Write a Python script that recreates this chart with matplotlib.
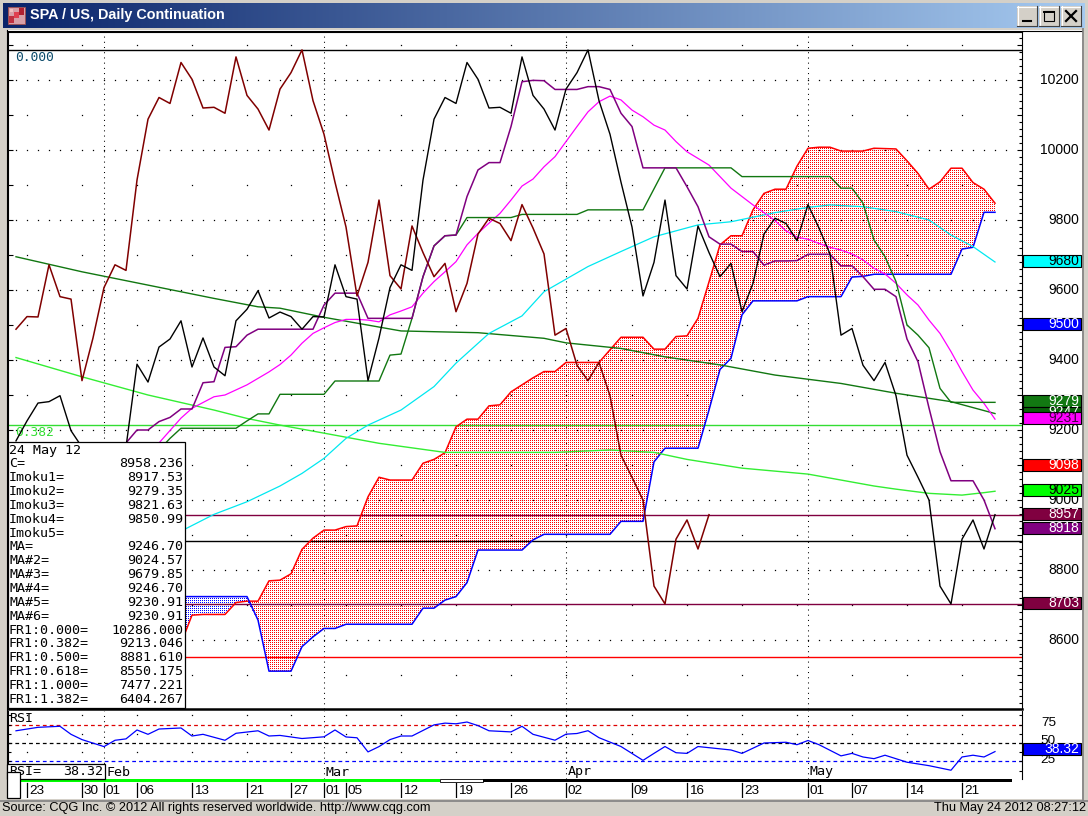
import numpy as np
import matplotlib
matplotlib.use("Agg")
import matplotlib.pyplot as plt
from matplotlib.patches import Rectangle
from matplotlib.lines import Line2D
from matplotlib.path import Path
from matplotlib.colors import to_rgb
from matplotlib.transforms import blended_transform_factory, offset_copy
from matplotlib.ticker import MultipleLocator

W, H = 1088, 816

# ---------------- data (bar index 0 = Mon Jan 23 2012, 88 = Thu May 24 2012) ----------------
close_start = -1
close = [9169, 9226, 9277, 9281, 9298, 9198, 9151, 9080, 9040, 9100,
         9151, 9388, 9337, 9437, 9460, 9512, 9380, 9463, 9380, 9355,
         9512, 9545, 9598, 9520, 9537, 9524, 9488, 9524, 9523, 9672,
         9581, 9574, 9341, 9463, 9607, 9672, 9656, 9914, 10088, 10150,
         10133, 10250, 10202, 10120, 10122, 10105, 10266, 10156, 10117, 10057,
         10174, 10221, 10286, 10141, 10045, 9908, 9780, 9583, 9679, 9857,
         9641, 9603, 9783, 9707, 9638, 9676, 9538, 9619, 9760, 9805,
         9790, 9741, 9844, 9777, 9703, 9471, 9490, 9385, 9341, 9393,
         9298, 9128, 9065, 9000, 8754, 8703, 8888, 8943, 8860, 8958]
chikou_lag = 26

tenkan_start = 8
tenkan = [9114, 9163, 9200, 9200, 9224, 9236, 9260, 9260, 9335, 9338,
          9436, 9438, 9471, 9488, 9488, 9488, 9488, 9488, 9488, 9557,
          9591, 9591, 9591, 9519, 9519, 9519, 9519, 9519, 9638, 9726,
          9755, 9757, 9867, 9943, 9964, 9964, 10067, 10195, 10199, 10198,
          10173, 10173, 10173, 10181, 10181, 10173, 10105, 10067, 9949, 9949,
          9949, 9949, 9895, 9838, 9752, 9731, 9731, 9710, 9710, 9671,
          9683, 9683, 9684, 9702, 9702, 9702, 9669, 9669, 9638, 9602,
          9602, 9581, 9460, 9395, 9263, 9138, 9055, 9055, 9055, 9000, 8918]

kijun_start = 12
kijun = [9143, 9176, 9205, 9205, 9205, 9205, 9205, 9205, 9226, 9246,
         9246, 9302, 9302, 9302, 9302, 9302, 9340, 9340, 9340, 9340,
         9340, 9414, 9417, 9519, 9638, 9726, 9755, 9757, 9807, 9807,
         9807, 9807, 9807, 9816, 9816, 9816, 9816, 9816, 9816, 9829,
         9829, 9829, 9829, 9829, 9829, 9889, 9949, 9949, 9949, 9949,
         9949, 9949, 9949, 9924, 9924, 9924, 9924, 9924, 9924, 9924,
         9924, 9924, 9891, 9891, 9848, 9743, 9695, 9624, 9500, 9471,
         9435, 9319, 9279, 9279, 9279, 9279, 9279]

cloud_start = 14
span_red = [8590, 8671, 8673, 8673, 8673, 8707, 8711, 8711, 8769, 8771,
            8789, 8859, 8891, 8914, 8914, 8924, 8926, 9009, 9065, 9057,
            9057, 9057, 9105, 9116, 9135, 9209, 9231, 9231, 9269, 9272,
            9309, 9329, 9349, 9367, 9367, 9393, 9393, 9393, 9393, 9429,
            9465, 9465, 9465, 9431, 9431, 9467, 9469, 9519, 9623, 9729,
            9755, 9755, 9829, 9876, 9888, 9888, 9954, 10005, 10008, 10008,
            9997, 9997, 9997, 10005, 10004, 10003, 9969, 9933, 9888, 9909,
            9948, 9948, 9907, 9888, 9848]
span_blue = [8724, 8724, 8724, 8724, 8724, 8724, 8724, 8657, 8511, 8511,
             8511, 8581, 8609, 8633, 8633, 8645, 8645, 8645, 8645, 8645,
             8645, 8645, 8691, 8691, 8714, 8724, 8764, 8857, 8857, 8857,
             8857, 8857, 8886, 8902, 8902, 8902, 8902, 8902, 8902, 8902,
             8939, 8939, 8939, 9109, 9148, 9148, 9148, 9148, 9257, 9373,
             9405, 9529, 9569, 9569, 9569, 9569, 9569, 9581, 9581, 9581,
             9581, 9637, 9639, 9645, 9645, 9645, 9645, 9645, 9645, 9645,
             9645, 9717, 9722, 9822, 9822]

ma_x = [-1, 5, 11, 17, 21, 23, 27, 34, 41, 47, 49, 54, 58, 63, 68, 74, 79, 84, 88]
ma = [9695, 9652, 9614, 9576, 9552, 9548, 9522, 9483, 9478, 9462, 9449, 9433, 9409,
      9386, 9357, 9333, 9305, 9281, 9247]

ma2_x = [-1, 5, 11, 17, 20, 23, 27, 32, 38, 43, 48, 53, 57, 60, 65, 71, 77, 79, 82, 85, 87, 88]
ma2 = [9407, 9352, 9300, 9257, 9233, 9214, 9191, 9162, 9136, 9136, 9136, 9143, 9136,
       9116, 9091, 9074, 9040, 9031, 9019, 9014, 9021, 9025]

ma3_x = [14, 17, 20, 23, 25, 27, 29, 31, 34, 37, 39, 42, 45, 47, 51, 54, 57, 61, 64,
         68, 71, 73, 76, 79, 82, 84, 86, 88]
ma3 = [8911, 8959, 8995, 9040, 9076, 9119, 9176, 9214, 9257, 9324, 9391, 9476, 9526,
       9595, 9667, 9710, 9752, 9786, 9795, 9821, 9836, 9843, 9838, 9824, 9800, 9757,
       9724, 9680]

ma5_x = [11, 12, 14, 15, 17, 18, 20, 22, 23, 24, 25, 26, 27, 28, 29, 30, 31, 32, 33,
         34, 35, 36, 37, 38, 39, 40, 41, 42, 43, 44, 45, 46, 47, 48, 49, 50, 51, 52,
         53, 54, 55, 56, 57, 58, 59, 60, 61, 62, 63, 64, 65, 66, 67, 68, 69, 70, 71,
         72, 73, 74, 75, 76, 77, 78, 79, 80, 81, 82, 83, 84, 85, 86, 87, 88]
ma5 = [9137, 9163, 9234, 9262, 9295, 9300, 9329, 9366, 9387, 9414, 9448, 9476, 9492,
       9507, 9516, 9516, 9514, 9509, 9529, 9540, 9552, 9591, 9624, 9652, 9681, 9729,
       9762, 9791, 9819, 9857, 9897, 9917, 9952, 9981, 10024, 10067, 10109, 10138,
       10154, 10143, 10114, 10095, 10071, 10057, 10024, 9995, 9976, 9957, 9924, 9891,
       9867, 9843, 9821, 9798, 9769, 9751, 9745, 9733, 9722, 9714, 9703, 9686, 9662,
       9646, 9619, 9586, 9557, 9514, 9476, 9424, 9367, 9314, 9276, 9231]

rsi_x = [-1, 1, 3, 4, 5, 7, 8, 9, 10, 11, 12, 14, 15, 16, 18, 19, 21, 22, 23, 25,
         27, 28, 29, 30, 31, 32, 33, 34, 35, 37, 38, 39, 40, 41, 42, 44, 45, 46, 48,
         49, 50, 51, 52, 54, 56, 57, 58, 59, 60, 61, 64, 65, 67, 69, 70, 71, 72, 74,
         75, 76, 77, 78, 80, 82, 84, 85, 86, 87, 88]
rsi = [66.6, 71.3, 72.7, 61.8, 54.6, 45.1, 53.7, 55.6, 67.7, 61.8, 69.0, 70.4, 59.5,
       61.8, 53.7, 63.2, 66.6, 59.5, 60.3, 56.1, 58.4, 67.7, 58.2, 57.1, 37.9, 45.1,
       54.6, 59.5, 59.5, 74.6, 77.0, 76.1, 78.5, 73.6, 66.6, 65.1, 72.7, 61.8, 53.8,
       62.0, 62.9, 66.7, 57.2, 45.2, 26.4, 35.9, 45.2, 36.8, 35.9, 45.2, 40.5, 35.9,
       50.0, 51.0, 47.7, 53.4, 47.7, 32.5, 35.9, 31.0, 28.7, 33.4, 23.9, 19.2, 13.0,
       31.0, 33.4, 31.0, 38.32]
rsi_last = "38.32"

fib_levels = [10286.000, 9213.046, 8881.610, 8550.175]
fib_names = ["0.000", "0.382", None, None]
fib_colors = ["black", "#33dd33", "black", "#ff0000"]
last_line = 8957
low_line = 8703

date_ticks = [(0, "23"), (5, "30"), (7, "01"), (10, "06"), (15, "13"), (20, "21"),
              (24, "27"), (27, "01"), (29, "05"), (34, "12"), (39, "19"), (44, "26"),
              (49, "02"), (55, "09"), (60, "16"), (65, "23"), (71, "01"), (75, "07"),
              (80, "14"), (85, "21")]
months = [(7, "Feb"), (27, "Mar"), (49, "Apr"), (71, "May")]
mondays = [0, 5, 10, 15, 20, 24, 29, 34, 39, 44, 49, 55, 60, 65, 70, 75, 80, 85]

readout = [("24 May 12", ""), ("C=", "8958.236"), ("Imoku1=", "8917.53"),
           ("Imoku2=", "9279.35"), ("Imoku3=", "9821.63"), ("Imoku4=", "9850.99"),
           ("Imoku5=", ""), ("MA=", "9246.70"), ("MA#2=", "9024.57"),
           ("MA#3=", "9679.85"), ("MA#4=", "9246.70"), ("MA#5=", "9230.91"),
           ("MA#6=", "9230.91"), ("FR1:0.000=", "10286.000"), ("FR1:0.382=", "9213.046"),
           ("FR1:0.500=", "8881.610"), ("FR1:0.618=", "8550.175"),
           ("FR1:1.000=", "7477.221"), ("FR1:1.382=", "6404.267")]

tags = [(9680, "#00ffff", "black"), (9500, "#0000ff", "white"), (9279, "#127812", "white"),
        (9247, "#0a600a", "white"), (9231, "#ff00ff", "#400040"), (9098, "#ff0000", "white"),
        (9025, "#00ff00", "black"), (8957, "#800040", "white"), (8918, "#800080", "white"),
        (8703, "#800040", "white")]

MONO = "DejaVu Sans Mono"
SANS = "Liberation Sans"

# ---------------- figure helpers (pixel coords, origin top-left) ----------------
fig = plt.figure(figsize=(W / 100, H / 100), dpi=100, facecolor="#d4d0c8")


def fx(x):
    return x / W


def fy(y):
    return 1 - y / H


def frect(x0, y0, x1, y1, **kw):
    r = Rectangle((fx(x0), fy(y1)), (x1 - x0) / W, (y1 - y0) / H,
                  transform=fig.transFigure, **kw)
    fig.add_artist(r)
    return r


def fline(xs, ys, **kw):
    fig.add_artist(Line2D([fx(x) for x in xs], [fy(y) for y in ys],
                          transform=fig.transFigure, **kw))


def ftext(x, y, s, **kw):
    return fig.text(fx(x), fy(y), s, **kw)


# white chart window
frect(7, 30, 1082, 799, facecolor="white", edgecolor="none", zorder=-2)
fline([7, 1082], [30.5, 30.5], color="black", lw=0.8, zorder=-1)
fline([7, 7], [30, 772], color="black", lw=0.8, zorder=-1)
fline([0, 1088], [800.5, 800.5], color="#808080", lw=1.2, zorder=-1)
fline([1082.5, 1082.5], [28, 800], color="#808080", lw=1.2, zorder=-1)

# title bar
tb = fig.add_axes([fx(3), fy(28), (1085 - 3) / W, 25 / H])
grad = np.linspace(0, 1, 512)
c0, c1 = np.array(to_rgb("#0a246a")), np.array(to_rgb("#a6caf0"))
tb.imshow((c0[None, :] * (1 - grad[:, None]) + c1[None, :] * grad[:, None])[None, :, :],
          aspect="auto", extent=(0, 1, 0, 1))
tb.set_axis_off()
frect(8, 7, 25, 24, facecolor="#d8a0a8", edgecolor="#a05050", lw=0.6, zorder=3)
for (a, b, c, d, col) in [(9, 16, 14, 23, "#c03040"), (14, 12, 19, 18, "#e04050"),
                          (19, 8, 24, 15, "#b02030"), (10, 9, 13, 12, "#f0c0c0")]:
    frect(a, b, c, d, facecolor=col, edgecolor="none", zorder=3)
ftext(30, 15.5, "SPA / US, Daily Continuation", color="white", fontsize=10.4,
      fontweight="bold", family=SANS, va="center", ha="left")
for bx in (1017, 1039, 1061):
    frect(bx, 6, bx + 20, 26, facecolor="#d4d0c8", edgecolor="none", zorder=3)
    fline([bx, bx + 20], [6.5, 6.5], color="white", lw=0.8, zorder=4)
    fline([bx + 0.5, bx + 0.5], [6, 26], color="white", lw=0.8, zorder=4)
    fline([bx, bx + 20], [25.5, 25.5], color="#404040", lw=0.8, zorder=4)
    fline([bx + 19.5, bx + 19.5], [6, 26], color="#404040", lw=0.8, zorder=4)
fline([1023, 1031], [21, 21], color="black", lw=1.5, zorder=5)
frect(1044, 11, 1054, 21, facecolor="none", edgecolor="black", lw=0.8, zorder=5)
fline([1044, 1054], [11.8, 11.8], color="black", lw=1.4, zorder=5)
fline([1066, 1076], [11, 21], color="black", lw=1.6, zorder=5)
fline([1066, 1076], [21, 11], color="black", lw=1.6, zorder=5)

# ---------------- main price panel ----------------
PX_BAR, X0_PX = 11.0, 27.0          # bar pitch and pixel of bar 0
PX_PT, Y_REF_PX, Y_REF = 0.35, 80.0, 10200.0
L, R, T, B = 8, 1022, 32, 709
ax = fig.add_axes([fx(L), fy(B), (R - L) / W, (B - T) / H])
xlim = ((L - X0_PX) / PX_BAR, (R - X0_PX) / PX_BAR)
ylim = (Y_REF - (B - Y_REF_PX) / PX_PT, Y_REF + (Y_REF_PX - T) / PX_PT)
ax.set_facecolor("white")

# dotted grid
bars_all = np.arange(-1, 90)
for lv in range(8600, 10201, 200):
    ax.plot(bars_all, np.full(bars_all.size, lv), ls="none", marker="s", ms=0.9,
            mew=0, color="black", zorder=0.5)
for lv in range(8500, 10301, 200):
    ax.plot(mondays, np.full(len(mondays), lv), ls="none", marker="s", ms=0.9,
            mew=0, color="black", zorder=0.5)
for i, _ in months:
    ax.axvline(i, color="black", lw=0.75, ls=(0, (1, 4)), zorder=0.5)

# fibonacci + reference lines
bt = blended_transform_factory(ax.transAxes, ax.transData)
for lv, nm, col in zip(fib_levels, fib_names, fib_colors):
    ax.axhline(lv, color=col, lw=1.0, zorder=2)
    if nm:
        ax.text((15 - L) / (R - L), lv - 2, nm, transform=bt,
                color="#0a4a6a" if nm == "0.000" else col, fontsize=9.3, family=MONO,
                va="top", ha="left", zorder=2)
ax.axhline(last_line, color="#800040", lw=1.0, zorder=2)
ax.axhline(low_line, color="#800040", lw=1.0, zorder=2)

# ichimoku cloud with 1-px dot fill
cx = np.arange(cloud_start, cloud_start + len(span_red))
red_a, blue_a = np.array(span_red, float), np.array(span_blue, float)
pw, ph = R - L, B - T


def dot_fill(top, base, color):
    verts = np.column_stack([np.r_[cx, cx[::-1]], np.r_[top, base[::-1]]])
    img = np.zeros((ph, pw, 4))
    img[::2, ::2, :3] = to_rgb(color)
    img[::2, ::2, 3] = 1.0
    im = ax.imshow(img, extent=(xlim[0], xlim[1], ylim[0], ylim[1]), origin="upper",
                   interpolation="nearest", aspect="auto", zorder=1)
    im.set_clip_path(Path(verts), ax.transData)


dot_fill(red_a, np.minimum(red_a, blue_a), "#ff0000")
dot_fill(blue_a, np.minimum(red_a, blue_a), "#0000ff")
ax.plot(cx, span_red, color="#ff0000", lw=1.1, zorder=2.2)
ax.plot(cx, span_blue, color="#0000ff", lw=1.1, zorder=2.2)

# moving averages
ax.plot(ma_x, ma, color="#117711", lw=1.0, zorder=3)
ax.plot(ma2_x, ma2, color="#33ee33", lw=1.0, zorder=3)
ax.plot(ma3_x, ma3, color="#00e8f0", lw=0.9, zorder=3)
ax.plot(ma5_x, ma5, color="#ff00ff", lw=0.9, zorder=3)

# ichimoku lines
ax.plot(np.arange(kijun_start, kijun_start + len(kijun)), kijun, color="#117711", lw=1.0, zorder=3.2)
ax.plot(np.arange(tenkan_start, tenkan_start + len(tenkan)), tenkan, color="#800080", lw=1.1, zorder=3.3)
cidx = np.arange(close_start, close_start + len(close))
keep = cidx - chikou_lag >= close_start
ax.plot(cidx[keep] - chikou_lag, np.array(close)[keep], color="#800000", lw=1.1, zorder=3.4)
ax.plot(cidx, close, color="black", lw=1.0, zorder=3.5)

ax.set_xlim(*xlim)
ax.set_ylim(*ylim)
ax.set_xticks([])
ax.yaxis.set_major_locator(MultipleLocator(100))
ax.yaxis.set_minor_locator(MultipleLocator(20))
ax.tick_params(axis="y", which="major", direction="in", length=3.5, width=0.8,
               left=True, right=True, labelleft=False, labelright=False)
ax.tick_params(axis="y", which="minor", direction="in", length=2.2, width=0.8,
               left=False, right=True)
for s in ("left", "top", "right"):
    ax.spines[s].set_linewidth(0.8)
ax.spines["bottom"].set_linewidth(1.8)

# price labels and value tags on the right
lab_x = (1079 - L) / (R - L)
for v in range(8600, 10201, 200):
    ax.text(lab_x, v, str(v), transform=bt, ha="right", va="center", fontsize=10,
            family=SANS, color="black", clip_on=False, zorder=5)
tag_h = 12 / PX_PT
for k, (v, fc, tc) in enumerate(tags):
    ax.add_patch(Rectangle(((1022.5 - L) / (R - L), v - tag_h / 2 + 3), (1081 - 1022.5) / (R - L),
                           tag_h, transform=bt, facecolor=fc, edgecolor="black", lw=0.8,
                           clip_on=False, zorder=6 + 2 * k))
    ax.text(lab_x, v + 3, str(v), transform=bt, ha="right", va="center", fontsize=10,
            family=SANS, color=tc, clip_on=False, zorder=7 + 2 * k)

# readout box
frect(8, 442, 185, 708, facecolor="white", edgecolor="black", lw=0.9, zorder=4)
for k, (name, val) in enumerate(readout):
    yy = 450 + 13.85 * k
    ftext(9, yy, name, fontsize=9.6, family=MONO, va="center", ha="left", zorder=5)
    if val:
        ftext(183.5, yy, val, fontsize=9.6, family=MONO, va="center", ha="right", zorder=5)

# ---------------- RSI panel ----------------
RT, RB = 711, 779
RSI_PX, RSI_MID = 0.736, 743.0
axr = fig.add_axes([fx(L), fy(RB), (R - L) / W, (RB - RT) / H])
axr.set_xlim(*xlim)
axr.set_ylim(50 - (RB - RSI_MID) / RSI_PX, 50 + (RSI_MID - RT) / RSI_PX)
for lv in (87.5, 62.5, 37.5):
    axr.plot(mondays, np.full(len(mondays), lv), ls="none", marker="s", ms=0.9,
             mew=0, color="black", zorder=0.5)
for i, _ in months:
    axr.axvline(i, color="black", lw=0.75, ls=(0, (1, 4)), zorder=0.5)
for lv, col in ((75, "#dd0000"), (50, "black"), (25, "#0000ff")):
    axr.axhline(lv, color=col, lw=0.9, ls=(0, (3, 2.5)), zorder=1)
axr.plot(rsi_x, rsi, color="#0000ff", lw=0.9, zorder=2)
axr.set_xticks([])
axr.yaxis.set_major_locator(MultipleLocator(25))
axr.yaxis.set_minor_locator(MultipleLocator(12.5))
axr.tick_params(axis="y", which="both", direction="in", length=2.5, width=0.8,
                left=True, right=True, labelleft=False, labelright=False)
for s in ("top", "bottom"):
    axr.spines[s].set_visible(False)
axr.spines["left"].set_linewidth(0.8)
axr.spines["right"].set_linewidth(0.8)
mtr = offset_copy(axr.transData, fig=fig, x=2, y=0, units="dots")
for i, nm in months:
    axr.text(i, 50 - (772 - RSI_MID) / RSI_PX, nm, transform=mtr, fontsize=9.6, family=MONO,
             ha="left", va="center", zorder=3)
brt = blended_transform_factory(axr.transAxes, axr.transData)
for lv in (75, 50, 25):
    axr.text((1056 - L) / (R - L), lv + 2.5, str(lv), transform=brt, ha="right", va="center",
             fontsize=9.7, family=SANS, clip_on=False, zorder=3)
rsi_tag_y = float(rsi_last) + 3.7
axr.add_patch(Rectangle(((1022.5 - L) / (R - L), rsi_tag_y - 16.7 / 2),
                        (1081 - 1022.5) / (R - L), 16.7, transform=brt, facecolor="#0000ff",
                        edgecolor="black", lw=0.8, clip_on=False, zorder=4))
axr.text(lab_x, rsi_tag_y, rsi_last, transform=brt, ha="right", va="center",
         fontsize=10, family=SANS, color="white", clip_on=False, zorder=5)
ftext(9, 718, "RSI", fontsize=9.6, family=MONO, va="center", ha="left", zorder=5)
frect(7, 764, 104.5, 779, facecolor="white", edgecolor="black", lw=0.9, zorder=4)
ftext(9, 771.5, "RSI=", fontsize=9.6, family=MONO, va="center", ha="left", zorder=5)
ftext(103, 771.5, rsi_last, fontsize=9.6, family=MONO, va="center", ha="right", zorder=5)

# ---------------- date strip ----------------
frect(21, 779, 440, 782, facecolor="#00ff00", edgecolor="none", zorder=2)
frect(440, 779, 483, 782, facecolor="white", edgecolor="black", lw=0.6, zorder=2)
frect(483, 779, 1012, 782, facecolor="black", edgecolor="none", zorder=2)
axd = fig.add_axes([fx(L), fy(798), (R - L) / W, 16 / H])
axd.set_xlim(*xlim)
axd.set_ylim(0, 16)
axd.set_axis_off()
dtr = offset_copy(axd.transData, fig=fig, x=2, y=0, units="dots")
for i, lab in date_ticks:
    axd.plot([i, i], [1, 15], color="black", lw=0.9)
    axd.text(i, 7.5, lab, transform=dtr, fontsize=9.7, family=SANS, ha="left", va="center")
frect(7, 772, 20, 798, facecolor="white", edgecolor="black", lw=0.9, zorder=6)

# ---------------- footer ----------------
ftext(2, 808.5, "Source: CQG Inc. \u00a9 2012 All rights reserved worldwide. http://www.cqg.com",
      fontsize=9.2, family=SANS, va="center", ha="left")
ftext(1086, 808.5, "Thu May 24 2012 08:27:12", fontsize=9.2, family=SANS, va="center", ha="right")

fig.savefig("out.png", dpi=100, facecolor=fig.get_facecolor())
